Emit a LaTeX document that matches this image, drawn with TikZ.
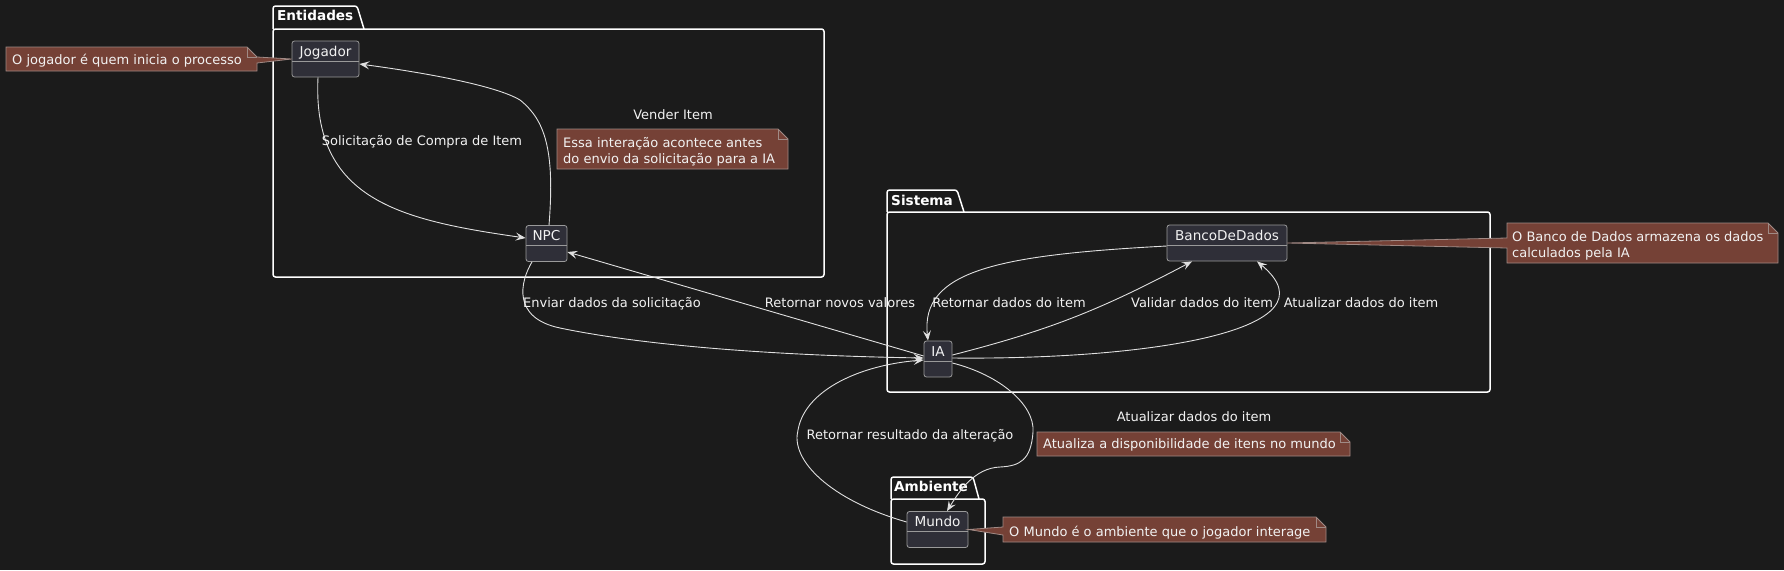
\documentclass[tikz,border=0pt]{standalone}
\usepackage{fontspec}
\setmainfont{DejaVu Sans}
\usetikzlibrary{arrows.meta}
\definecolor{bg}{HTML}{1B1B1B}
\definecolor{nfill}{HTML}{2F2F38}
\definecolor{nborder}{HTML}{9A9A9A}
\definecolor{notefill}{HTML}{754136}
\definecolor{noteborder}{HTML}{A08A85}
\definecolor{edgec}{HTML}{E0E0E0}
\definecolor{txt}{HTML}{F2F2F2}
\newcommand\dgfont{\fontsize{13}{16}\selectfont}
\newcommand\dgclsfont{\fontsize{13.6}{16}\selectfont}
\begin{document}
\begin{tikzpicture}[x=1pt,y=-1pt,
  cls/.style={draw=nborder, fill=nfill, rounded corners=2.5pt, line width=0.8pt,
    minimum width=#1, text height=15pt, text depth=21pt, inner ysep=0pt, inner xsep=0pt,
    text=txt, font=\dgclsfont,
    path picture={\draw[nborder, line width=0.8pt]
      ([yshift=-20pt]path picture bounding box.north west) --
      ([yshift=-20pt]path picture bounding box.north east);}},
  pkg/.style={draw=white, line width=1.5pt, rounded corners=2.5pt},
  pkglabel/.style={text=white, font=\dgclsfont\bfseries, inner sep=0pt, text height=9.5pt, text depth=0pt, anchor=west},
  lbl/.style={text=txt, font=\dgfont, inner sep=0pt, text height=9.5pt, text depth=0pt},
  note/.style={draw=noteborder, fill=notefill, line width=0.8pt},
  notefold/.style={draw=noteborder, line width=0.8pt},
  notetext/.style={text=txt, font=\dgfont, inner sep=0pt, align=left, anchor=base west},
  edge/.style={draw=edgec, line width=0.9pt},
  >={Stealth[length=10pt,width=8pt,inset=4pt]}
]
\fill[bg] (0,0) rectangle (1784,570);
\useasboundingbox (0,0) rectangle (1784,570);

% packages
\draw[pkg] (273,29) -- (273,6) -- (357,6) -- (364,29);
\draw[pkg] (273,29) rectangle (824,277);
\node[pkglabel] (entL) at (277,16) {Entidades};

\draw[pkg] (887,212) -- (887,190) -- (957,190) -- (964,212);
\draw[pkg] (887,212) rectangle (1490,392);
\node[pkglabel] (sisL) at (891,201) {Sistema};

\draw[pkg] (891,499) -- (891,477) -- (973,477) -- (979,499);
\draw[pkg] (891,499) rectangle (985,564);
\node[pkglabel] (ambL) at (894,487) {Ambiente};

% class nodes
\node[cls=67pt] (jog) at (325.5,59) {Jogador};
\node[cls=41pt] (npc) at (546.5,243.5) {NPC};
\node[cls=120pt] (bd) at (1227,243) {BancoDeDados};
\node[cls=28pt] (ia) at (938,359) {IA};
\node[cls=61pt] (mundo) at (937.5,529.5) {Mundo};

% notes
\draw[note] (6,47) -- (247,47) -- (257,57) -- (jog.west) -- (257,63) -- (257,71) -- (6,71) -- cycle;
\draw[notefold] (247,47) -- (247,57) -- (257,57);
\node[notetext] (n1) at (12,64) {O jogador é quem inicia o processo};

\draw[note] (557,129) -- (778,129) -- (788,139) -- (788,169) -- (557,169) -- cycle;
\draw[notefold] (778,129) -- (778,139) -- (788,139);
\node[notetext] (n2) at (563,163) {Essa interação acontece antes\\do envio da solicitação para a IA};

\draw[note] (1507,223) -- (1768,223) -- (1778,233) -- (1778,263) -- (1507,263) -- (1507,248) -- (bd.east) -- (1507,238) -- cycle;
\draw[notefold] (1768,223) -- (1768,233) -- (1778,233);
\node[notetext] (n3) at (1512,257) {O Banco de Dados armazena os dados\\calculados pela IA};

\draw[note] (1037,432) -- (1340,432) -- (1350,442) -- (1350,456) -- (1037,456) -- cycle;
\draw[notefold] (1340,432) -- (1340,442) -- (1350,442);
\node[notetext] (n4) at (1043,448) {Atualiza a disponibilidade de itens no mundo};

\draw[note] (1003,517) -- (1316,517) -- (1326,527) -- (1326,542) -- (1003,542) -- (1003,535) -- (mundo.east) -- (1003,527) -- cycle;
\draw[notefold] (1316,517) -- (1316,527) -- (1326,527);
\node[notetext] (n5) at (1009,536) {O Mundo é o ambiente que o jogador interage};

% edges
\draw[edge,->] ([xshift=-7.5pt]jog.south) .. controls (312,200) and (400,220) .. ([yshift=5.5pt]npc.west);
\draw[edge,->] ([xshift=2.5pt]npc.north) .. controls (555,150) and (545,120) .. (520,100) .. controls (495,85) and (420,72) .. ([yshift=-5pt]jog.east);
\draw[edge,->] ([xshift=-14.5pt]npc.south) .. controls (520,282) and (512,318) .. (560,328) .. controls (656,348) and (800,356) .. ([yshift=1pt]ia.west);
\draw[edge,->] ([yshift=3pt]ia.west) -- ([yshift=-8.5pt]npc.east);
\draw[edge,->] ([yshift=-3pt]bd.west) .. controls (1000,255) and (920,270) .. ([xshift=-10pt]ia.north);
\draw[edge,->] ([yshift=4pt]ia.east) .. controls (1050,330) and (1100,310) .. ([xshift=-35pt]bd.south);
\draw[edge,->] ([yshift=1pt]ia.east) .. controls (1150,360) and (1340,330) .. ([xshift=30pt]bd.south);
\draw[edge,->] ([yshift=-4pt]ia.east) .. controls (1000,375) and (1035,405) .. (1033,432) .. controls (1031,460) and (1020,466) .. (1000,467) .. controls (975,468) and (960,490) .. ([xshift=9.5pt]mundo.north);
\draw[edge,->] ([yshift=7.5pt]mundo.west) .. controls (830,500) and (790,460) .. (798,430) .. controls (805,390) and (860,365) .. ([yshift=-1pt]ia.west);

% edge labels
\node[lbl] (l1) at (422,141) {Solicitação de Compra de Item};
\node[lbl] (l2) at (673,115) {Vender Item};
\node[lbl] (l3) at (612,303) {Enviar dados da solicitação};
\node[lbl] (l4) at (840,303) {Retornar novos valores};
\node[lbl] (l5) at (1009,303) {Retornar dados do item};
\node[lbl] (l6) at (1202,303) {Validar dados do item};
\node[lbl] (l7) at (1361,303) {Atualizar dados do item};
\node[lbl] (l8) at (910,435) {Retornar resultado da alteração};
\node[lbl] (l9) at (1194,417) {Atualizar dados do item};
\end{tikzpicture}
\end{document}
